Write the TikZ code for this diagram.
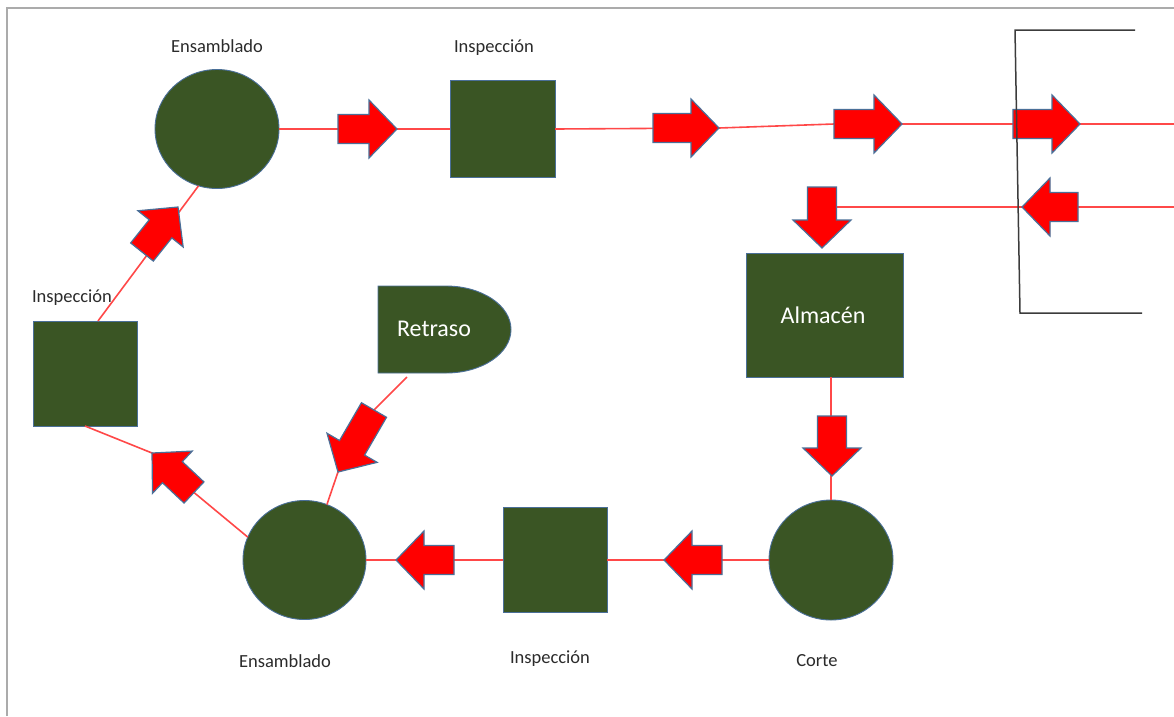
\documentclass[tikz,border=0pt]{standalone}
\usepackage{fontspec}
\setmainfont{Carlito}
\usetikzlibrary{calc,shapes.geometric}

\definecolor{shapegreen}{HTML}{3A5524}
\definecolor{shapeedge}{HTML}{4A6F98}
\definecolor{flowred}{HTML}{FF4848}
\definecolor{arrowred}{HTML}{FF0000}
\definecolor{labelgray}{HTML}{2B2B2B}
\definecolor{framegray}{HTML}{ABABAB}
\definecolor{bracketgray}{HTML}{3C3C3C}

% block arrow from tail centre #1 to tip #2
\newcommand\redarrow[2]{%
  \coordinate (#1-hb) at ($(#2)!28pt!(#1)$);
  \filldraw[blockarrow] (#2)
    -- ($(#1-hb)!29pt!90:(#2)$) -- ($(#1-hb)!14.5pt!90:(#2)$)
    -- ($(#1)!14.5pt!90:(#2)$) -- ($(#1)!14.5pt!-90:(#2)$)
    -- ($(#1-hb)!14.5pt!-90:(#2)$) -- ($(#1-hb)!29pt!-90:(#2)$) -- cycle;}

\tikzset{
  green shape/.style={fill=shapegreen, draw=shapeedge, line width=0.9pt, inner sep=0pt, outer sep=0pt},
  opcircle/.style={green shape, ellipse},
  opbox/.style={green shape, rectangle},
  flowline/.style={draw=flowred, line width=1.6pt},
  blockarrow/.style={fill=arrowred, draw=shapeedge, line width=1.2pt, line join=miter},
  steplabel/.style={text=labelgray, font=\fontsize{18.5}{20}\selectfont, anchor=base, inner sep=0pt},
  innertext/.style={text=white, font=\fontsize{24}{28}\selectfont, inner sep=0pt},
}

\begin{document}
\begin{tikzpicture}[x=1pt,y=-1pt]
\useasboundingbox (0,0) rectangle (1174,716);
\fill[white] (0,0) rectangle (1174,716);

% page frame
\draw[framegray, line width=2pt] (7,716) -- (7,8) -- (1174,8);

% process steps
\node[opcircle, minimum width=124pt, minimum height=119pt] (ens1) at (217,129) {};
\node[opbox, minimum width=105pt, minimum height=97pt] (insp1) at (502.5,129) {};
\node[opbox, minimum width=157pt, minimum height=124pt] (alm) at (824.5,315) {};
\node[innertext] (almtext) at (823,315) {Almacén};
\node[opcircle, minimum width=124pt, minimum height=120pt] (corte) at (831,560) {};
\node[opbox, minimum width=104pt, minimum height=105pt] (insp3) at (555,560) {};
\node[opcircle, minimum width=123pt, minimum height=119pt] (ens2) at (304.5,560) {};
\node[opbox, minimum width=104pt, minimum height=105pt] (insp2) at (85,373.5) {};

% delay symbol
\filldraw[green shape] (378,286) -- (446,286)
  arc[start angle=90, end angle=-90, x radius=65pt, y radius=43.5pt]
  -- (378,373) -- cycle;
\node[innertext] (ret) at (434,329) {Retraso};

% labels
\node[steplabel] (l1) at (217,52) {Ensamblado};
\node[steplabel] (l2) at (494,52) {Inspección};
\node[steplabel] (l3) at (72,302) {Inspección};
\node[steplabel] (l4) at (285,667) {Ensamblado};
\node[steplabel] (l5) at (550,663) {Inspección};
\node[steplabel] (l6) at (817,666) {Corte};

% arrow positions (tail centre / tip)
\coordinate (a1t) at (338,129);    \coordinate (a1h) at (397,129);
\coordinate (a2t) at (653,128);    \coordinate (a2h) at (719,128);
\coordinate (a3t) at (834,124);    \coordinate (a3h) at (902,124);
\coordinate (a4t) at (1013,124);   \coordinate (a4h) at (1080,124);
\coordinate (a5t) at (1078,207);   \coordinate (a5h) at (1022,207);
\coordinate (a6t) at (822,187);    \coordinate (a6h) at (822,248);
\coordinate (a7t) at (832,416);    \coordinate (a7h) at (832,476);
\coordinate (a8t) at (722,560);    \coordinate (a8h) at (664,560);
\coordinate (a9t) at (454,560);    \coordinate (a9h) at (396,560);
\coordinate (a10t) at (194,492.5); \coordinate (a10h) at (152,453);
\coordinate (a11t) at (374,410);   \coordinate (a11h) at (338,472);
\coordinate (a12t) at (142,252);   \coordinate (a12h) at (178,207);
\coordinate (outR) at (1174,124);
\coordinate (inR) at (1174,207);
\coordinate (retout) at (407,377);

% flow lines
\draw[flowline] (ens1.east) -- (insp1.west);
\draw[flowline] (insp1.east) -- (a2h) -- (a3t) -- (outR);
\draw[flowline] (inR) -- (a6t |- inR);
\draw[flowline] (corte.north |- alm.south) -- (corte.north);
\draw[flowline] (corte.west) -- (insp3.east);
\draw[flowline] (insp3.west) -- (ens2.east);
\draw[flowline] (ens2.158) -- (a10t) -- (a10h) -- (insp2.south);
\draw[flowline] (retout) -- (a11t) -- (a11h) -- (ens2.68);
\draw[flowline] ($(insp2.north)+(13,0)$) -- (ens1.252);

% block arrows
\redarrow{a1t}{a1h}
\redarrow{a2t}{a2h}
\redarrow{a3t}{a3h}
\redarrow{a4t}{a4h}
\redarrow{a5t}{a5h}
\redarrow{a6t}{a6h}
\redarrow{a7t}{a7h}
\redarrow{a8t}{a8h}
\redarrow{a9t}{a9h}
\redarrow{a10t}{a10h}
\redarrow{a11t}{a11h}
\redarrow{a12t}{a12h}

% bracket on the right
\draw[bracketgray, line width=1.5pt] (1135,30) -- (1015,30) -- (1020,313) -- (1142,313);
\end{tikzpicture}
\end{document}
